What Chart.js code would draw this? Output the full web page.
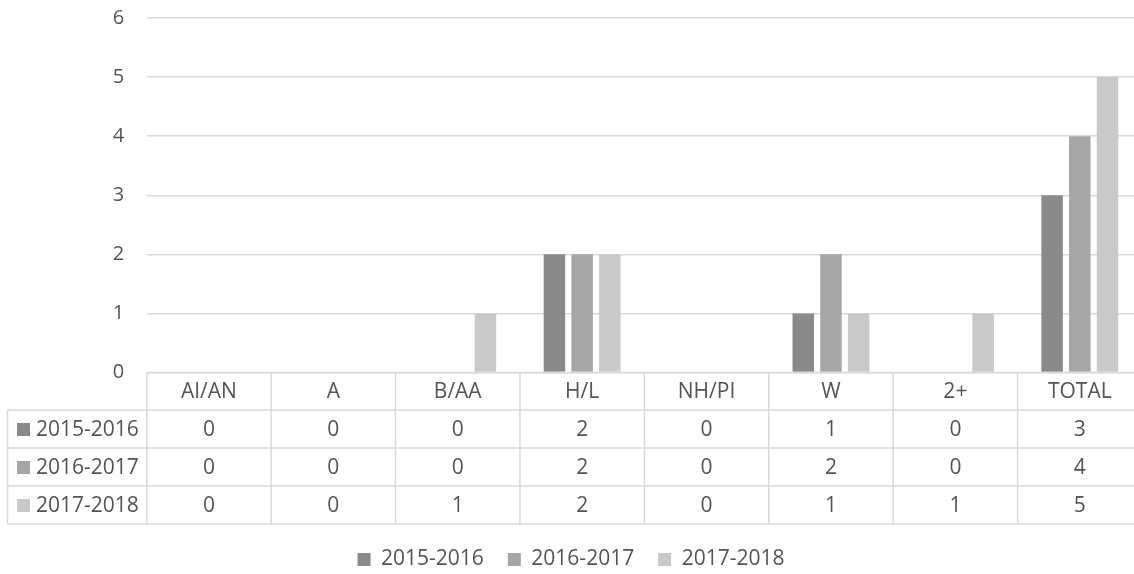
<!DOCTYPE html>
<html>
<head>
<meta charset="utf-8">
<script src="https://cdn.jsdelivr.net/npm/chart.js@4.4.1/dist/chart.umd.min.js"></script>
<style>
  html, body { margin: 0; padding: 0; background: #ffffff; overflow: hidden; }
  #wrap { width: 1134px; height: 574px; overflow: hidden; position: relative; }
  canvas { display: block; }
</style>
</head>
<body>
<div id="wrap"><canvas id="chart" width="1142" height="580"></canvas></div>
<script>
// Categories and series
const categories = ['AI/AN', 'A', 'B/AA', 'H/L', 'NH/PI', 'W', '2+', 'TOTAL'];
const seriesNames = ['2015-2016', '2016-2017', '2017-2018'];
const values2015 = [0, 0, 0, 2, 0, 1, 0, 3];
const values2016 = [0, 0, 0, 2, 0, 2, 0, 4];
const values2017 = [0, 0, 1, 2, 0, 1, 1, 5];
const seriesColors = ['#8a8a8a', '#a6a6a6', '#c9c9c9'];
const yMin = 0;
const yMax = 6;
const yStep = 1;

const FONT = '"Open Sans", "Liberation Sans", sans-serif';
const TEXT = '#545454';
const LINE = '#d9d9d9';

// Data table drawn under the plot, aligned to the category scale
const dataTable = {
  id: 'dataTable',
  afterDraw(chart) {
    const ctx = chart.ctx;
    const x = chart.scales.x;
    const area = chart.chartArea;
    const n = chart.data.labels.length;
    const step = (x.right - x.left) / n;
    const top = area.bottom;
    const headH = 37.5;
    const rowH = 38;
    const rowTops = [top + headH, top + headH + rowH, top + headH + 2 * rowH];
    const bottom = top + headH + 3 * rowH;
    const tableLeft = 7.5;

    ctx.save();
    ctx.strokeStyle = LINE;
    ctx.lineWidth = 1.5;
    ctx.beginPath();
    // horizontal rules
    ctx.moveTo(x.left, top); ctx.lineTo(chart.width, top);
    [...rowTops, bottom].forEach(y => { ctx.moveTo(tableLeft, y); ctx.lineTo(chart.width, y); });
    // vertical rules
    ctx.moveTo(tableLeft, rowTops[0]); ctx.lineTo(tableLeft, bottom);
    for (let i = 0; i <= n; i++) {
      const px = x.getPixelForValue(0) - step / 2 + i * step;
      ctx.moveTo(px, top); ctx.lineTo(px, bottom);
    }
    ctx.stroke();

    ctx.fillStyle = TEXT;
    ctx.font = '21px ' + FONT;
    ctx.textBaseline = 'middle';
    ctx.textAlign = 'center';
    // header row: category names
    chart.data.labels.forEach((lab, i) => {
      ctx.fillText(lab, x.getPixelForValue(i), top + headH / 2 + 1);
    });
    // series rows
    chart.data.datasets.forEach((ds, r) => {
      const cy = rowTops[r] + rowH / 2 + 1;
      ctx.fillStyle = ds.backgroundColor;
      ctx.fillRect(17, cy - 7, 13, 13);
      ctx.fillStyle = TEXT;
      ctx.textAlign = 'left';
      ctx.fillText(ds.label, 36, cy);
      ctx.textAlign = 'center';
      ds.data.forEach((v, i) => {
        ctx.fillText(String(v), x.getPixelForValue(i), cy);
      });
    });
    ctx.restore();
  }
};

function makeChart() {
  new Chart(document.getElementById('chart'), {
    type: 'bar',
    data: {
      labels: categories,
      datasets: [
        { label: seriesNames[0], data: values2015, backgroundColor: seriesColors[0] },
        { label: seriesNames[1], data: values2016, backgroundColor: seriesColors[1] },
        { label: seriesNames[2], data: values2017, backgroundColor: seriesColors[2] }
      ]
    },
    options: {
      responsive: false,
      animation: false,
      devicePixelRatio: 1,
      layout: { padding: { top: 18, right: 0, bottom: 0, left: 0 } },
      datasets: {
        bar: { categoryPercentage: 0.668, barPercentage: 0.776, borderWidth: 0 }
      },
      scales: {
        x: {
          grid: { display: false },
          border: { display: false },
          ticks: { display: false },
          afterFit(scale) {
            scale.height = 152.5;
            scale.paddingLeft = 0;
            scale.paddingRight = 0;
          }
        },
        y: {
          min: yMin,
          max: yMax,
          border: { display: false },
          grid: { color: LINE, lineWidth: 1.5, drawTicks: false },
          ticks: {
            stepSize: yStep,
            padding: 22.5,
            color: TEXT,
            font: { family: FONT, size: 20 }
          },
          afterFit(scale) {
            scale.width = 146.7;
            scale.paddingTop = 0;
            scale.paddingBottom = 0;
          }
        }
      },
      plugins: {
        legend: {
          position: 'bottom',
          labels: {
            boxWidth: 13,
            boxHeight: 13,
            padding: 24,
            color: TEXT,
            font: { family: FONT, size: 21 }
          }
        },
        tooltip: { enabled: false }
      }
    },
    plugins: [dataTable]
  });
}

if (document.fonts && document.fonts.load) {
  Promise.all([
    document.fonts.load('21px "Open Sans"'),
    document.fonts.load('20px "Open Sans"')
  ]).then(makeChart, makeChart);
} else {
  makeChart();
}
</script>
</body>
</html>
